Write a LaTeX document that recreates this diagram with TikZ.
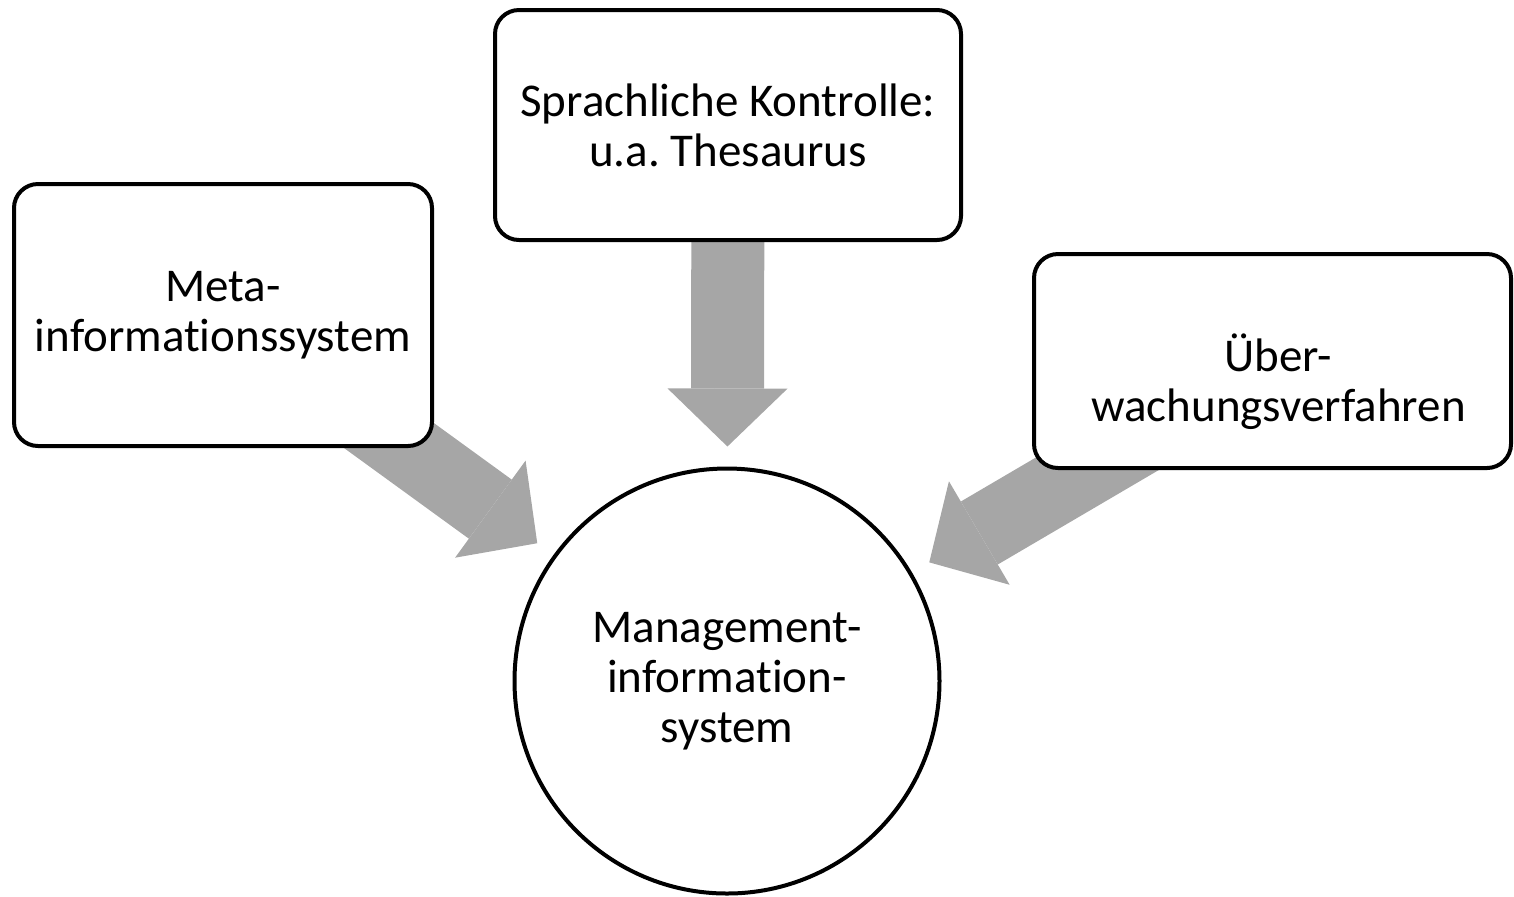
\documentclass[tikz,border=0pt]{standalone}
\usepackage{fontspec}
\setmainfont{Carlito}[Ligatures=CommonOff]
\usetikzlibrary{arrows.meta,backgrounds,positioning}
\definecolor{arrowgray}{RGB}{166,166,166}
\newcommand{\boxfont}{\fontsize{23.5pt}{25pt}\selectfont\frenchspacing}
\tikzset{
  infobox/.style={draw=black, line width=2pt, fill=white, rounded corners=12pt,
    align=center, inner sep=0pt, font=\boxfont},
  hub/.style={circle, draw=black, line width=2pt, fill=white, align=center,
    inner sep=0pt, minimum size=212.5pt, font=\boxfont},
  fatarrow/.style={draw=arrowgray, line width=36.5pt,
    -{Triangle[length=29pt,width=60pt,line width=0pt]}, shorten >=10pt}
}

\begin{document}
\begin{tikzpicture}[x=0.5pt,y=-0.5pt]
    \useasboundingbox (0,0) rectangle (1514,896);

    % Draw the central circle.
    \node[hub] (mis) at (727,681) {Management-\\information-\\system};

    % Draw the three boxes.
    \node[infobox, minimum width=233pt, minimum height=115pt] (sprache) at (728,125)
        {Sprachliche Kontrolle:\\u.a. Thesaurus};
    \node[infobox, minimum width=209pt, minimum height=131pt] (meta) at (223,315)
        {Meta-\\informationssystem};
    \node[infobox, minimum width=238.5pt, minimum height=107pt] (ueber) at (1272.5,361) {};
    \node[align=center, inner sep=0pt, font=\boxfont] (ueberText)
        at ([shift={(6,21)}]ueber.center) {Über-\\wachungsverfahren};

    % Draw the arrows behind the boxes.
    \begin{scope}[on background layer]
        \draw[fatarrow] (sprache) -- (mis);
        \draw[fatarrow] (meta.center) -- (mis);
        \draw[fatarrow] (ueber.center) -- (mis);
    \end{scope}

\end{tikzpicture}
\end{document}
